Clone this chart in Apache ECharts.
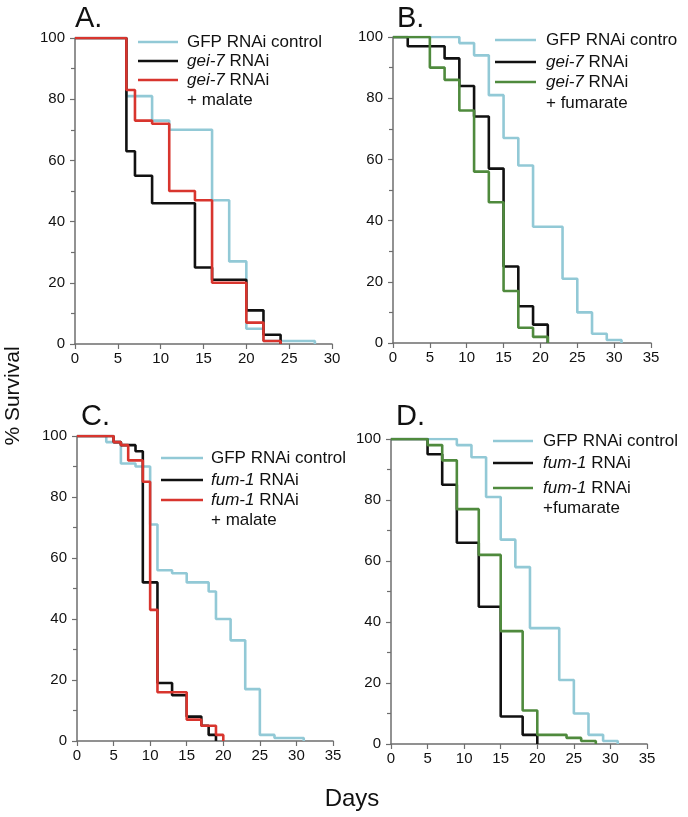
<!DOCTYPE html>
<html>
<head>
<meta charset="utf-8">
<script src="https://cdn.jsdelivr.net/npm/echarts@6/dist/echarts.min.js"></script>
<style>html,body{margin:0;padding:0;background:#fff}#c{width:688px;height:817px}</style>
</head>
<body>
<div id="c"></div>
<script>
// ---------- Panel A (gei-7 RNAi, malate) ----------
const aGfpDays   = [0, 6, 9, 11, 16, 18, 20, 22, 28];
const aGfpSurv   = [100, 81, 73, 70, 47, 27, 5, 1, 0];
const aGeiDays   = [0, 6, 7, 9, 14, 16, 20, 22, 24];
const aGeiSurv   = [100, 63, 55, 46, 25, 21, 11, 3, 0];
const aMalDays   = [0, 6, 7, 9, 11, 14, 16, 20, 22, 24];
const aMalSurv   = [100, 83, 73, 72, 50, 47, 20, 7, 1, 0];
// ---------- Panel B (gei-7 RNAi, fumarate) ----------
const bGfpDays   = [0, 9, 11, 13, 15, 17, 19, 23, 25, 27, 29, 31];
const bGfpSurv   = [100, 98, 94, 81, 67, 58, 38, 21, 10, 3, 1, 0];
const bGeiDays   = [0, 2, 7, 9, 11, 13, 15, 17, 19, 21];
const bGeiSurv   = [100, 97, 93, 84, 74, 57, 25, 12, 6, 0];
const bFumDays   = [0, 5, 7, 9, 11, 13, 15, 17, 19, 21];
const bFumSurv   = [100, 90, 86, 76, 56, 46, 17, 5, 2, 0];
// ---------- Panel C (fum-1 RNAi, malate) ----------
const cGfpDays   = [0, 4, 6, 8, 10, 11, 13, 15, 18, 19, 21, 23, 25, 27, 31];
const cGfpSurv   = [100, 98, 91, 90, 71, 56, 55, 52, 49, 40, 33, 17, 2, 1, 0];
const cFumDays   = [0, 5, 6, 8, 9, 11, 13, 15, 17, 18, 19];
const cFumSurv   = [100, 98, 97, 95, 52, 19, 15, 8, 5, 2, 0];
const cMalDays   = [0, 5, 6, 7, 9, 10, 11, 15, 17, 19, 20];
const cMalSurv   = [100, 98, 97, 92, 85, 43, 16, 7, 5, 2, 0];
// ---------- Panel D (fum-1 RNAi, fumarate) ----------
const dGfpDays   = [0, 9, 11, 13, 15, 17, 19, 23, 25, 27, 29, 31];
const dGfpSurv   = [100, 98, 94, 81, 67, 58, 38, 21, 10, 3, 1, 0];
const dFumDays   = [0, 5, 7, 9, 12, 15, 18, 20];
const dFumSurv   = [100, 95, 85, 66, 45, 9, 3, 0];
const dFumarDays = [0, 5, 7, 9, 12, 15, 18, 20, 24, 26, 28];
const dFumarSurv = [100, 98, 93, 77, 62, 37, 11, 3, 2, 1, 0];

const xMaxA = 30, xMaxOther = 35;
const yTicks = [0, 20, 40, 60, 80, 100];

const CYAN = '#92c9d6', BLACK = '#111111', RED = '#d8352e', GREEN = '#4f8a3d';
const FONT = '"Liberation Sans", Arial, sans-serif';
const AXC = '#6e6e6e';

function zip(d, s) { return d.map((v, i) => [v, s[i]]); }

const grids = [
  {left: 75, top: 38, width: 257, height: 306},
  {left: 393, top: 37, width: 258, height: 306},
  {left: 77, top: 436, width: 256, height: 305},
  {left: 391, top: 439, width: 256, height: 305}
];
const xMaxes = [xMaxA, xMaxOther, xMaxOther, xMaxOther];

const xAxes = grids.map((g, i) => ({
  type: 'value', gridIndex: i, min: 0, max: xMaxes[i], interval: 5,
  axisLine: {show: true, onZero: false, lineStyle: {color: AXC, width: 1.5}},
  axisTick: {show: true, length: 5, lineStyle: {color: AXC, width: 1.2}},
  splitLine: {show: false},
  axisLabel: {color: '#111', fontSize: 15, fontFamily: FONT, margin: 7}
}));
const yAxes = grids.map((g, i) => ({
  type: 'value', gridIndex: i, min: yTicks[0], max: yTicks[yTicks.length - 1], interval: 20,
  axisLine: {show: true, lineStyle: {color: AXC, width: 1.5}},
  axisTick: {show: true, length: 5, lineStyle: {color: AXC, width: 1.2}},
  minorTick: {show: true, splitNumber: 2, length: 4, lineStyle: {color: AXC, width: 1.2}},
  splitLine: {show: false},
  axisLabel: {color: '#111', fontSize: 15, fontFamily: FONT, margin: 10}
}));

function ser(name, days, surv, color, idx, w) {
  return {
    name: name, type: 'line', step: 'end', xAxisIndex: idx, yAxisIndex: idx,
    data: zip(days, surv), showSymbol: false, symbol: 'none',
    lineStyle: {color: color, width: w || 2.6}, itemStyle: {color: color},
    z: 2, silent: true
  };
}

const series = [
  ser('A GFP', aGfpDays, aGfpSurv, CYAN, 0),
  ser('A gei-7', aGeiDays, aGeiSurv, BLACK, 0),
  ser('A gei-7 malate', aMalDays, aMalSurv, RED, 0),
  ser('B GFP', bGfpDays, bGfpSurv, CYAN, 1),
  ser('B gei-7', bGeiDays, bGeiSurv, BLACK, 1),
  ser('B gei-7 fumarate', bFumDays, bFumSurv, GREEN, 1),
  ser('C GFP', cGfpDays, cGfpSurv, CYAN, 2),
  ser('C fum-1', cFumDays, cFumSurv, BLACK, 2),
  ser('C fum-1 malate', cMalDays, cMalSurv, RED, 2),
  ser('D GFP', dGfpDays, dGfpSurv, CYAN, 3),
  ser('D fum-1', dFumDays, dFumSurv, BLACK, 3),
  ser('D fum-1 fumarate', dFumarDays, dFumarSurv, GREEN, 3)
];

const RICH = {i: {fontStyle: 'italic', fontSize: 17, fontFamily: FONT, fill: '#111'}};
function legendBlock(x0, x1, tx, rows) {
  const els = [];
  rows.forEach(r => {
    if (r.color) {
      els.push({type: 'line', shape: {x1: x0, y1: r.y, x2: x1, y2: r.y},
        style: {stroke: r.color, lineWidth: 2.6}});
    }
    els.push({type: 'text', x: tx, y: r.y, style: {
      text: r.text, fontSize: 17, fontFamily: FONT, fill: '#111',
      verticalAlign: 'middle', rich: RICH}});
  });
  return els;
}

const graphics = [].concat(
  [
    {type: 'text', x: 75, y: 4, style: {text: 'A.', fontSize: 29, fontFamily: FONT, fill: '#111'}},
    {type: 'text', x: 397, y: 4, style: {text: 'B.', fontSize: 29, fontFamily: FONT, fill: '#111'}},
    {type: 'text', x: 81, y: 402, style: {text: 'C.', fontSize: 29, fontFamily: FONT, fill: '#111'}},
    {type: 'text', x: 396, y: 402, style: {text: 'D.', fontSize: 29, fontFamily: FONT, fill: '#111'}},
    {type: 'text', x: 13, y: 396, rotation: Math.PI / 2, style: {text: '% Survival', fontSize: 21,
      fontFamily: FONT, fill: '#111', align: 'center', verticalAlign: 'middle'}},
    {type: 'text', x: 352, y: 799, style: {text: 'Days', fontSize: 24, fontFamily: FONT, fill: '#111',
      align: 'center', verticalAlign: 'middle'}}
  ],
  legendBlock(138, 178, 187, [
    {y: 42, color: CYAN, text: 'GFP RNAi control'},
    {y: 61, color: BLACK, text: '{i|gei-7} RNAi'},
    {y: 80, color: RED, text: '{i|gei-7} RNAi'},
    {y: 100, text: '+ malate'}
  ]),
  legendBlock(495, 536, 546, [
    {y: 40, color: CYAN, text: 'GFP RNAi contro'},
    {y: 62, color: BLACK, text: '{i|gei-7} RNAi'},
    {y: 82, color: GREEN, text: '{i|gei-7} RNAi'},
    {y: 103, text: '+ fumarate'}
  ]),
  legendBlock(161, 203, 211, [
    {y: 458, color: CYAN, text: 'GFP RNAi control'},
    {y: 480, color: BLACK, text: '{i|fum-1} RNAi'},
    {y: 500, color: RED, text: '{i|fum-1} RNAi'},
    {y: 520, text: '+ malate'}
  ]),
  legendBlock(493, 533, 543, [
    {y: 441, color: CYAN, text: 'GFP RNAi control'},
    {y: 463, color: BLACK, text: '{i|fum-1} RNAi'},
    {y: 488, color: GREEN, text: '{i|fum-1} RNAi'},
    {y: 508, text: '+fumarate'}
  ])
);

const chart = echarts.init(document.getElementById('c'), null, {renderer: 'canvas'});
chart.setOption({
  animation: false,
  backgroundColor: '#fff',
  grid: grids.map(g => Object.assign({containLabel: false}, g)),
  xAxis: xAxes,
  yAxis: yAxes,
  series: series,
  graphic: graphics
});
</script>
</body>
</html>
